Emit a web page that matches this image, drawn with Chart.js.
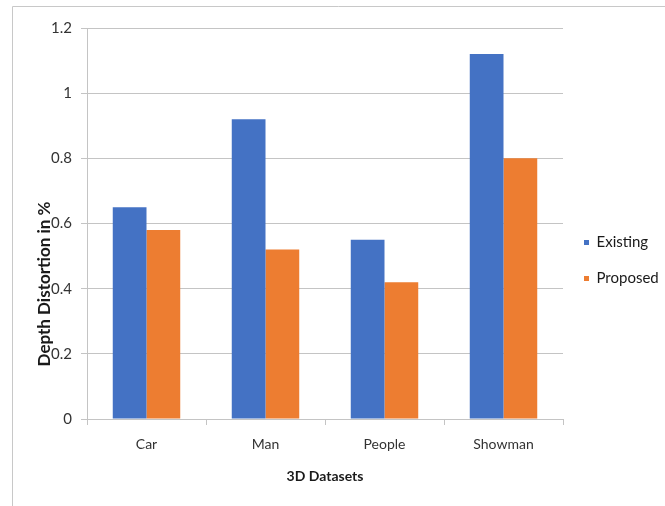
<!DOCTYPE html>
<html>
<head>
<meta charset="utf-8">
<script src="https://cdn.jsdelivr.net/npm/chart.js@4/dist/chart.umd.min.js"></script>
<style>
  html, body { margin: 0; padding: 0; background: #ffffff; }
  #wrap { width: 665px; height: 506px; }
</style>
</head>
<body>
<div id="wrap"><canvas id="c" width="665" height="506"></canvas></div>
<script>
// Depth distortion per 3D dataset
const categories = ['Car', 'Man', 'People', 'Showman'];
const existing = [0.65, 0.92, 0.55, 1.12];
const proposed = [0.58, 0.52, 0.42, 0.80];
const seriesNames = ['Existing', 'Proposed'];
const yAxisTitle = 'Depth Distortion in %';
const xAxisTitle = '3D Datasets';

const FONT = "Lato, 'Open Sans', sans-serif";
const GRID = '#c4c4c4';

// thin frame on the left and top edges
const framePlugin = {
  id: 'frame',
  beforeDraw(chart) {
    const ctx = chart.ctx;
    ctx.save();
    ctx.strokeStyle = '#c8c8c8';
    ctx.lineWidth = 1;
    ctx.beginPath();
    ctx.moveTo(12.5, 506);
    ctx.lineTo(12.5, 6.5);
    ctx.lineTo(665, 6.5);
    ctx.stroke();
    ctx.restore();
  }
};

// rotated value-axis caption
const yTitlePlugin = {
  id: 'yTitle',
  afterDraw(chart) {
    const ctx = chart.ctx;
    ctx.save();
    ctx.translate(45, 284);
    ctx.rotate(-Math.PI / 2);
    ctx.font = "bold 17px " + FONT;
    ctx.fillStyle = '#1a1a1a';
    ctx.textAlign = 'center';
    ctx.textBaseline = 'middle';
    ctx.fillText(yAxisTitle, 0, 0);
    ctx.restore();
  }
};

new Chart(document.getElementById('c'), {
  type: 'bar',
  data: {
    labels: categories,
    datasets: [
      { label: seriesNames[0], data: existing, backgroundColor: '#4472C4', borderWidth: 0 },
      { label: seriesNames[1], data: proposed, backgroundColor: '#ED7D31', borderWidth: 0 }
    ]
  },
  options: {
    responsive: false,
    devicePixelRatio: 1,
    animation: false,
    layout: { padding: { top: 28, right: 0, bottom: 13, left: 0 } },
    datasets: { bar: { categoryPercentage: 0.567, barPercentage: 1.0 } },
    plugins: {
      tooltip: { enabled: false },
      legend: {
        position: 'right',
        maxWidth: 102,
        labels: {
          boxWidth: 5,
          boxHeight: 5,
          padding: 21,
          color: '#1a1a1a',
          font: { family: FONT, size: 15 }
        }
      }
    },
    scales: {
      x: {
        grid: { display: true, drawOnChartArea: false, drawTicks: true, tickLength: 6, color: GRID },
        border: { display: true, color: GRID },
        ticks: { color: '#333333', padding: 11, font: { family: FONT, size: 14 } },
        title: {
          display: true,
          text: xAxisTitle,
          color: '#1a1a1a',
          font: { family: FONT, size: 14, weight: 'bold' },
          padding: { top: 0, bottom: 8 }
        },
        afterFit(scale) { scale.height = 74; }
      },
      y: {
        min: 0,
        max: 1.2,
        grid: { color: GRID, tickLength: 6, drawTicks: true },
        border: { display: true, color: GRID },
        ticks: {
          stepSize: 0.2,
          padding: 9,
          color: '#333333',
          font: { family: FONT, size: 15 },
          callback: v => String(Number(v.toFixed(1)))
        },
        afterFit(scale) { scale.width = 87; }
      }
    }
  },
  plugins: [framePlugin, yTitlePlugin]
});
</script>
</body>
</html>
